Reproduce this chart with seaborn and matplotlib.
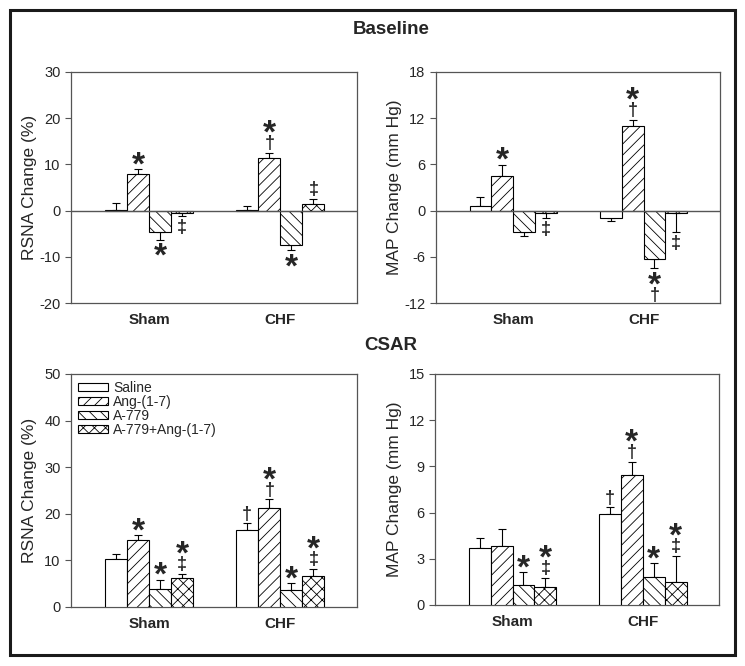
import numpy as np
import pandas as pd
import seaborn as sns
import matplotlib.pyplot as plt
from matplotlib.patches import Rectangle

groups = ['Sham', 'CHF']
treatments = ['Saline', 'Ang-(1-7)', 'A-779', 'A-779+Ang-(1-7)']
hatches = ['', '///', '\\\\\\', 'xxx']

# rows: Sham, CHF ; columns: treatments
rsna_base_mean = [[0.1, 7.9, -4.7, -0.6], [0.2, 11.4, -7.35, 1.45]]
rsna_base_sem = [[1.6, 1.0, 1.6, 0.5], [0.9, 1.1, 1.2, 1.1]]
rsna_base_marks = [['', '*', '*', '‡'], ['', '*†', '*', '‡']]

map_base_mean = [[0.65, 4.55, -2.77, -0.35], [-0.95, 11.0, -6.28, -0.35]]
map_base_sem = [[1.1, 1.4, 0.56, 0.6], [0.35, 0.8, 1.2, 2.45]]
map_base_marks = [['', '*', '', '‡'], ['', '*†', '*†', '‡']]

rsna_csar_mean = [[10.26, 14.28, 3.95, 6.31], [16.43, 21.23, 3.73, 6.74]]
rsna_csar_sem = [[1.0, 1.07, 1.9, 0.8], [1.5, 1.87, 1.44, 1.44]]
rsna_csar_marks = [['', '*', '*', '*‡'], ['†', '*†', '*', '*‡']]

map_csar_mean = [[3.70, 3.83, 1.30, 1.15], [5.89, 8.42, 1.84, 1.47]]
map_csar_sem = [[0.63, 1.13, 0.82, 0.6], [0.45, 0.89, 0.89, 1.71]]
map_csar_marks = [['', '', '*', '*‡'], ['†', '*†', '*', '*‡']]

FONT = ['Liberation Sans', 'DejaVu Sans']
sns.set_style('ticks')
plt.rcParams['font.family'] = FONT
plt.rcParams['hatch.linewidth'] = 0.6
plt.rcParams['axes.unicode_minus'] = False
GRAY = '#555555'


def make_frame(mean, sem):
    rows = []
    for gi, g in enumerate(groups):
        for ti, t in enumerate(treatments):
            rows.append({'group': g, 'treatment': t,
                         'value': mean[gi][ti], 'sem': sem[gi][ti]})
    return pd.DataFrame(rows)


def draw_panel(ax, mean, sem, marks, ylim, yticks, ylabel, zero_line=False, legend=False):
    df = make_frame(mean, sem)
    sns.barplot(data=df, x='group', y='value', hue='treatment', order=groups,
                hue_order=treatments, ax=ax, errorbar=None, width=0.672,
                palette=['white'] * 4, edgecolor='black', linewidth=0.8,
                legend=legend, zorder=3)

    bar_conts = list(ax.containers)
    for ti, cont in enumerate(bar_conts):
        for gi, bar in enumerate(cont):
            bar.set_hatch(hatches[ti])
            x = bar.get_x() + bar.get_width() / 2
            v = mean[gi][ti]
            e = sem[gi][ti]
            yerr = [[0], [e]] if v >= 0 else [[e], [0]]
            ax.errorbar(x, v, yerr=yerr, fmt='none', ecolor='black',
                        elinewidth=0.8, capsize=3, capthick=0.8, zorder=2)
            sym = marks[gi][ti]
            if not sym:
                continue
            end = v + e if v >= 0 else v - e
            n = len(sym)
            for k, s in enumerate(sym):
                # symbols stack "*" over "†/‡", away from the error bar end
                if v >= 0:
                    off = 7 + (n - 1 - k) * 11
                else:
                    off = -8 - k * 11
                if s == '*':
                    fs, frac = 24, 0.45
                else:
                    fs, frac = 13, 0.28
                ax.annotate(s, (x, end), xytext=(0, off - frac * fs),
                            textcoords='offset points', ha='center',
                            va='baseline', fontsize=fs, fontweight='bold',
                            family=FONT, zorder=5)

    if zero_line:
        ax.axhline(0, color=GRAY, lw=1, zorder=4)

    ax.set_xlim(-0.595, 1.585)
    ax.set_ylim(*ylim)
    ax.set_yticks(yticks)
    ax.set_xlabel('')
    ax.set_ylabel(ylabel, fontsize=12.5)
    ax.yaxis.set_label_coords(-0.118, 0.5)
    ax.tick_params(axis='y', labelsize=10.5, length=4, color=GRAY, width=0.8)
    ax.tick_params(axis='x', length=0, labelsize=11, pad=7)
    for lab in ax.get_xticklabels():
        lab.set_fontweight('bold')
    for sp in ax.spines.values():
        sp.set_visible(True)
        sp.set_color(GRAY)
        sp.set_linewidth(0.9)

    if legend:
        leg = ax.legend(loc='upper left', bbox_to_anchor=(0.0, 1.0), frameon=False,
                        fontsize=10, handlelength=2.15, handleheight=0.45,
                        labelspacing=0.0, handletextpad=0.4, borderaxespad=0.1)
        for p, h in zip(leg.get_patches(), hatches):
            p.set_hatch(h)
            p.set_facecolor('white')
            p.set_edgecolor('black')


fig = plt.figure(figsize=(7.45, 6.66), dpi=100)

ax1 = fig.add_axes([0.0953, 0.545, 0.384, 0.347])
draw_panel(ax1, rsna_base_mean, rsna_base_sem, rsna_base_marks, (-20, 30),
           [-20, -10, 0, 10, 20, 30], 'RSNA Change (%)', zero_line=True)

ax2 = fig.add_axes([0.585, 0.545, 0.381, 0.347])
draw_panel(ax2, map_base_mean, map_base_sem, map_base_marks, (-12, 18),
           [-12, -6, 0, 6, 12, 18], 'MAP Change (mm Hg)', zero_line=True)

ax3 = fig.add_axes([0.0953, 0.0886, 0.384, 0.350])
draw_panel(ax3, rsna_csar_mean, rsna_csar_sem, rsna_csar_marks, (0, 50),
           [0, 10, 20, 30, 40, 50], 'RSNA Change (%)', legend=True)

ax4 = fig.add_axes([0.584, 0.0916, 0.381, 0.347])
draw_panel(ax4, map_csar_mean, map_csar_sem, map_csar_marks, (0, 15),
           [0, 3, 6, 9, 12, 15], 'MAP Change (mm Hg)')

fig.text(391 / 745, 1 - 29 / 666, 'Baseline', ha='center', va='center',
         fontsize=13.5, fontweight='bold')
fig.text(391 / 745, 1 - 345 / 666, 'CSAR', ha='center', va='center',
         fontsize=13.5, fontweight='bold')

fig.patches.append(Rectangle((10 / 745, 1 - 655 / 666), 725 / 745, 645 / 666,
                             transform=fig.transFigure, fill=False,
                             edgecolor='#1a1a1a', linewidth=2.2))

fig.savefig('out.png', dpi=100)
